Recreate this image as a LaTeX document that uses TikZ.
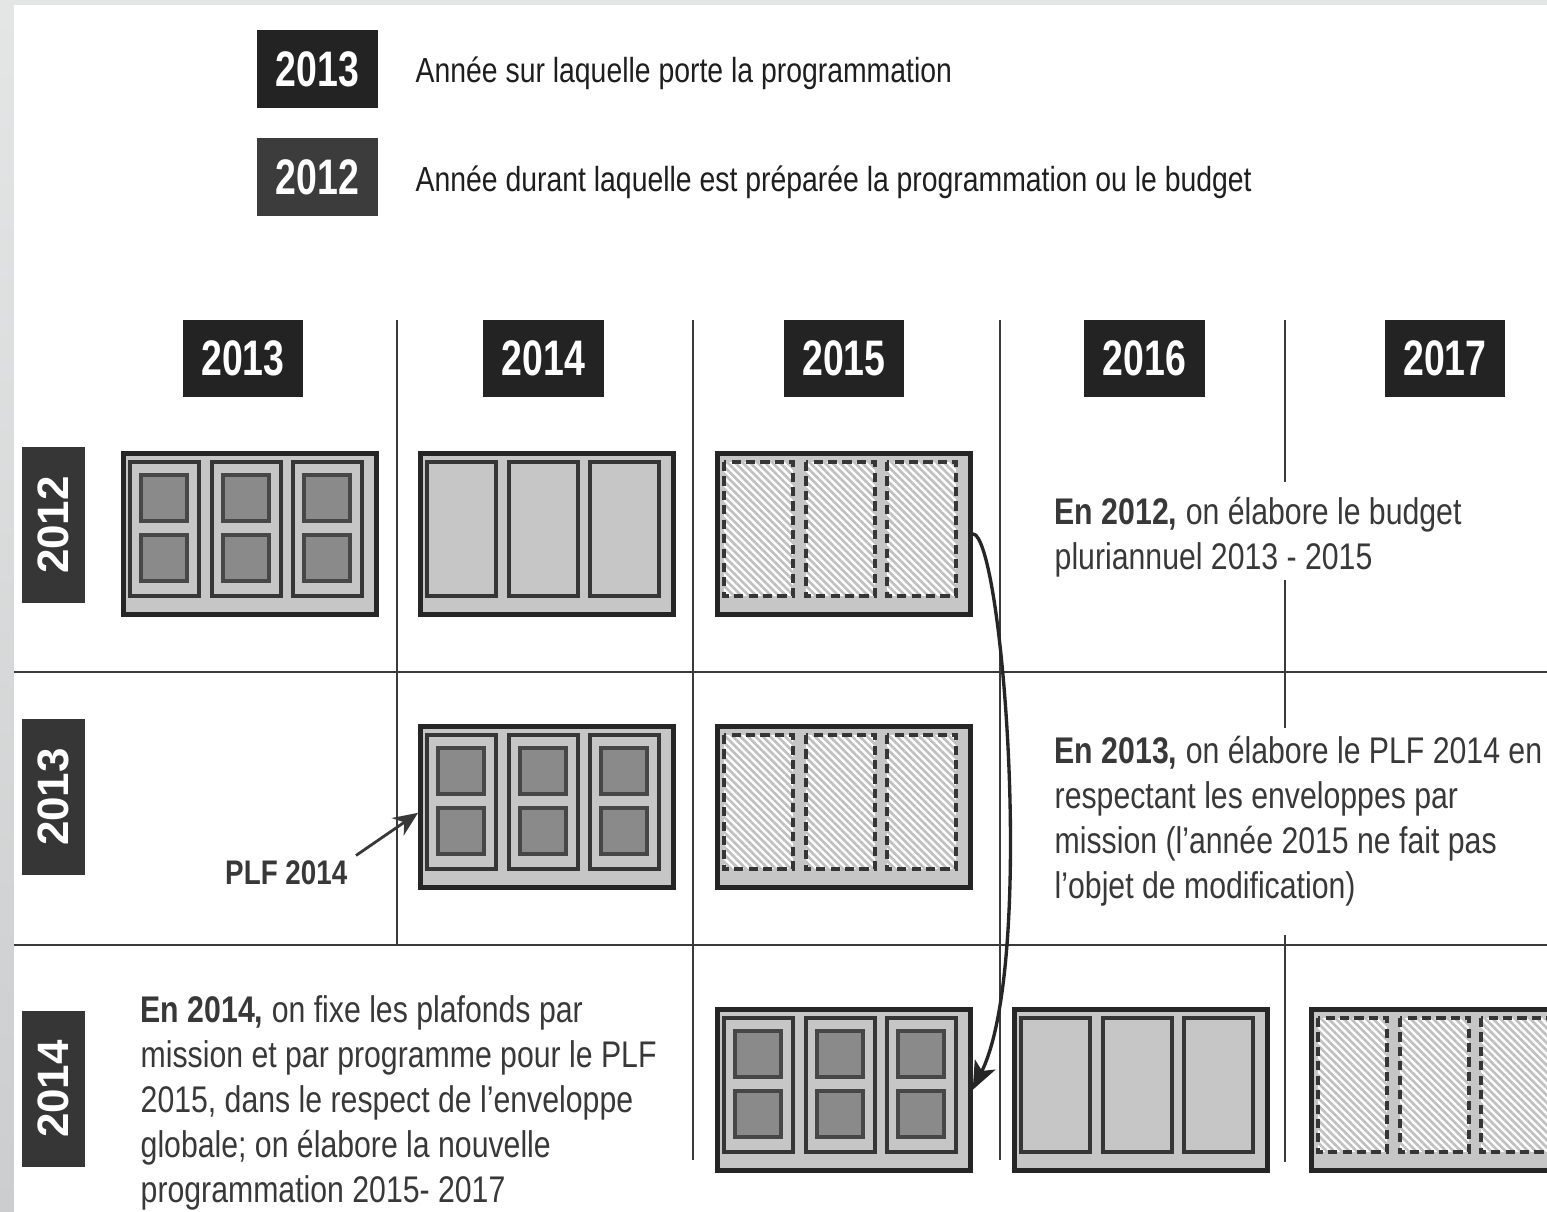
\documentclass[tikz,border=0pt]{standalone}
\usepackage{fontspec}
\setmainfont{Liberation Sans}[FakeStretch=0.815]
\newfontfamily\widefont{Liberation Sans}
\newfontfamily\hdrfont{Liberation Sans}[FakeStretch=0.75]
\usetikzlibrary{arrows.meta,patterns.meta,calc}
\definecolor{hdr}{HTML}{232323}
\definecolor{lgtwo}{HTML}{3C3C3C}
\definecolor{rowlab}{HTML}{363636}
\definecolor{boxfill}{HTML}{C6C6C6}
\definecolor{sqfill}{HTML}{8A8A8A}
\definecolor{boxline}{HTML}{262626}
\definecolor{panline}{HTML}{363636}
\definecolor{sqline}{HTML}{474747}
\definecolor{hatchcol}{HTML}{C0C0C0}
\definecolor{gridline}{HTML}{3A3A3A}
\definecolor{bodytext}{HTML}{383838}
\definecolor{legtextc}{HTML}{1E1E1E}
\definecolor{framegray}{HTML}{E4E6E6}
\definecolor{framedark}{HTML}{CBCECE}
\tikzset{
  outerbox/.style={draw=boxline, line width=1.3pt, fill=boxfill, anchor=north west,
    minimum width=2.53cm, minimum height=1.61cm, inner sep=0pt},
  panel/.style={draw=panline, line width=1.1pt, fill=boxfill},
  sq/.style={draw=sqline, line width=1.05pt, fill=sqfill},
  dpanel/.style={draw=panline, line width=1.1pt, dash pattern=on 2.6pt off 1.5pt},
  grid/.style={draw=gridline, line width=0.65pt},
  yearhdr/.style={fill=hdr, text=white, inner sep=0pt, minimum width=1.2cm,
    minimum height=0.77cm, font=\hdrfont\bfseries\fontsize{14.2}{15}\selectfont},
  rowlbl/.style={fill=rowlab, text=white, inner sep=0pt, minimum width=1.56cm,
    minimum height=0.63cm, rotate=90, font=\widefont\bfseries\fontsize{12.5}{13}\selectfont},
  body/.style={text=bodytext, inner sep=0pt, anchor=base west,
    font=\fontsize{10.55}{13}\selectfont},
  legtext/.style={text=legtextc, inner sep=0pt, anchor=base west,
    font=\fontsize{9.9}{12}\selectfont},
  plflabel/.style={text=bodytext, inner sep=0pt, anchor=base east,
    font=\bfseries\fontsize{9.7}{12}\selectfont},
  ptr/.style={draw=bodytext, line width=0.8pt, -{Stealth[length=7pt,width=6pt]}},
  bigarrow/.style={draw=boxline, line width=0.95pt, -{Stealth[length=8pt,width=6.5pt,inset=2pt]}},
  detailed/.pic={
    \node[outerbox] (-outer) at (0,0) {};
    \foreach \px in {9,91,172}{
      \draw[panel] (\px,11) rectangle ++(69,134);
      \draw[sq] (\px+11,24) rectangle ++(46,46);
      \draw[sq] (\px+11,84) rectangle ++(46,46);
    }
  },
  plain/.pic={
    \node[outerbox] (-outer) at (0,0) {};
    \foreach \px in {9,91,172}{
      \draw[panel] (\px,11) rectangle ++(69,134);
    }
  },
  hatched/.pic={
    \node[outerbox] (-outer) at (0,0) {};
    \foreach \px in {9,91,172}{
      \fill[white] (\px,11) rectangle ++(69,134);
      \path[pattern={Lines[angle=-45,distance=1.5pt,line width=0.75pt]}, pattern color=hatchcol]
        (\px,11) rectangle ++(69,134);
      \draw[dpanel] (\px,11) rectangle ++(69,134);
    }
  }
}
\begin{document}
\begin{tikzpicture}[x=0.01cm,y=-0.01cm]
\useasboundingbox (0,0) rectangle (1547,1212);
% background frame
\fill[framegray] (0,0) rectangle (1547,1212);
\shade[top color=framegray, bottom color=framedark] (0,0) rectangle (14,1212);
\fill[white] (14,5) rectangle (1547,1212);

% legend
\node[yearhdr] (lg13) at (317.5,69) {2013};
\node[yearhdr, fill=lgtwo] (lg12) at (317.5,177) {2012};
\node[legtext] (lt1) at (415,82) {Année sur laquelle porte la programmation};
\node[legtext] (lt2) at (415,191) {Année durant laquelle est préparée la programmation ou le budget};

% grid lines
\draw[grid] (14,672) -- (1547,672);
\draw[grid] (14,945) -- (1547,945);
\draw[grid] (397,320) -- (397,945);
\draw[grid] (693,320) -- (693,1160);
\draw[grid] (1000,320) -- (1000,1160);
\draw[grid] (1285,320) -- (1285,482);
\draw[grid] (1285,580) -- (1285,728);
\draw[grid] (1285,935) -- (1285,1162);

% column headers
\node[yearhdr] (c13) at (243,358.5) {2013};
\node[yearhdr] (c14) at (543.5,358.5) {2014};
\node[yearhdr] (c15) at (844,358.5) {2015};
\node[yearhdr] (c16) at (1144.5,358.5) {2016};
\node[yearhdr] (c17) at (1445,358.5) {2017};

% row labels
\node[rowlbl] (r12) at (53.5,525) {2012};
\node[rowlbl] (r13) at (53.5,797) {2013};
\node[rowlbl] (r14) at (53.5,1089) {2014};

% boxes
\pic (r1a) at (121,451) {detailed};
\pic (r1b) at (418,451) {plain};
\pic (r1c) at (715,451) {hatched};
\pic (r2b) at (418,724) {detailed};
\pic (r2c) at (715,724) {hatched};
\pic (r3a) at (715,1007) {detailed};
\pic (r3b) at (1012,1007) {plain};
\pic (r3c) at (1309,1007) {hatched};

% texts
\node[body] (t1a) at (1054,524) {\textbf{En 2012,} on élabore le budget};
\node[body] (t1b) at (1054,569) {pluriannuel 2013 - 2015};

\node[body] (t2a) at (1054,763) {\textbf{En 2013,} on élabore le PLF 2014 en};
\node[body] (t2b) at (1054,808) {respectant les enveloppes par};
\node[body] (t2c) at (1054,853) {mission (l’année 2015 ne fait pas};
\node[body] (t2d) at (1054,898) {l’objet de modification)};

\node[body] (t3a) at (140,1022) {\textbf{En 2014,} on fixe les plafonds par};
\node[body] (t3b) at (140,1067) {mission et par programme pour le PLF};
\node[body] (t3c) at (140,1112) {2015, dans le respect de l’enveloppe};
\node[body] (t3d) at (140,1157) {globale; on élabore la nouvelle};
\node[body] (t3e) at (140,1202) {programmation 2015- 2017};

% PLF 2014 pointer
\node[plflabel] (plf) at (348,884) {PLF 2014};
\draw[ptr] ($(plf.north east)+(8,-4)$) -- ($(r2b-outer.west)+(0,6)$);

% big curved arrow
\draw[bigarrow] (r1c-outer.east) .. controls +(30,0) and +(63,-128) .. (r3a-outer.east);
\end{tikzpicture}
\end{document}
